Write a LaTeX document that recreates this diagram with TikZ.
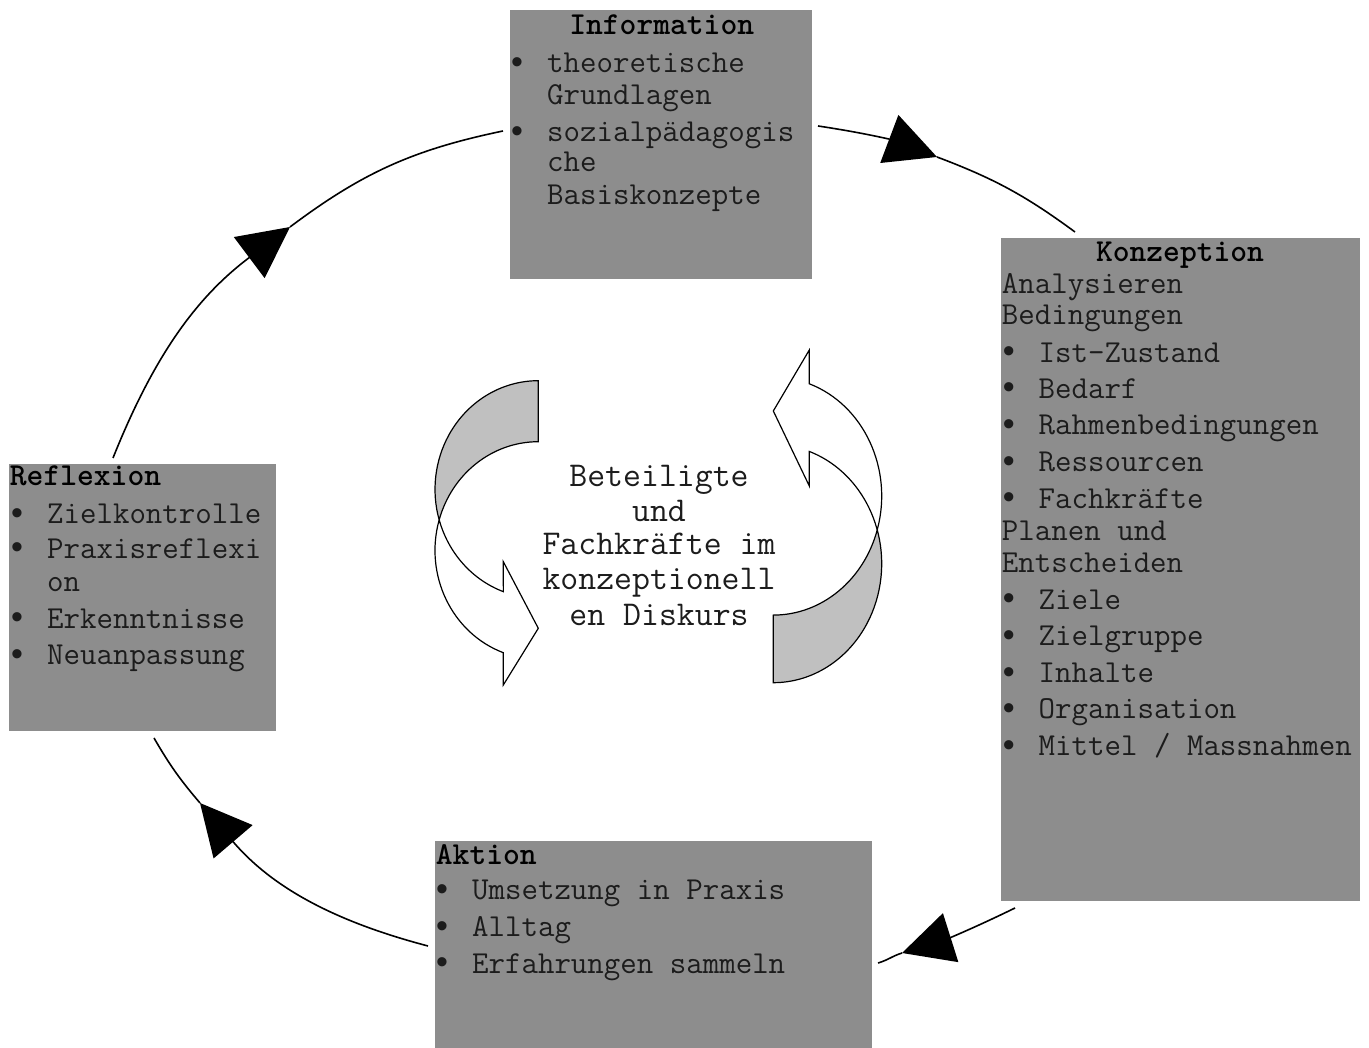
\documentclass[tikz,border=0pt]{standalone}
\usepackage{fontspec}
\newfontfamily\bulfont{Liberation Mono}
\usetikzlibrary{arrows.meta}
\definecolor{boxgray}{RGB}{141,141,141}
\definecolor{arrowgray}{RGB}{192,192,192}
\definecolor{txtcol}{RGB}{28,28,28}
\newcommand\bul{\makebox[19.5pt][l]{\hspace*{-0.6pt}\smash{\raisebox{-0.3pt}{\bulfont\fontsize{17}{17}\selectfont •}}}}
\begin{document}
\begin{tikzpicture}[x=0.5pt,y=0.5pt,
  box/.style={fill=boxgray, draw=none, inner sep=0pt, outer sep=0pt, anchor=north west},
  ttl/.style={font=\ttfamily\bfseries\fontsize{16}{18}\selectfont, text=black, inner sep=0pt},
  txt/.style={font=\ttfamily\fontsize{16}{18}\selectfont, text=txtcol, inner sep=0pt, anchor=base west},
  ctr/.style={font=\ttfamily\fontsize{17.4}{19}\selectfont, text=txtcol, inner sep=0pt, anchor=base},
  cyc/.style={line width=0.8pt, draw=black},
  cyctip/.style={cyc, -{Triangle[length=25.5pt,width=25.5pt]}},
  blk/.style={draw=black, line width=0.6pt, line join=miter},
]
\useasboundingbox (0,0) rectangle (1369,1048);

% cycle connectors
\coordinate (a1s) at (818,922);  \coordinate (a1t) at (937,891);  \coordinate (a1e) at (1075,816);
\coordinate (a2s) at (1015,140); \coordinate (a2t) at (902,95);   \coordinate (a2e) at (878,85);
\coordinate (a3s) at (428,102);  \coordinate (a3t) at (200,245);  \coordinate (a3e) at (154,310);
\coordinate (a4s) at (113,590);  \coordinate (a4t) at (290,821);  \coordinate (a4e) at (503,917);

\draw[cyctip] (a1s) to[out=-8.5,in=159.3] (a1t);
\draw[cyc] (a1t) to[out=-20.7,in=143.7] (a1e);
\draw[cyctip] (a2s) to[out=206,in=17.5] (a2t);
\draw[cyc] (a2t) to[out=197.5,in=16] (a2e);
\draw[cyctip] (a3s) to[out=165.3,in=-49.5] (a3t);
\draw[cyc] (a3t) to[out=130.5,in=300.1] (a3e);
\draw[cyctip] (a4s) to[out=68.2,in=216.9] (a4t);
\draw[cyc] (a4t) to[out=36.9,in=191.8] (a4e);

% boxes
\node[box, minimum width=151pt, minimum height=134.5pt] (info) at (510,1038) {};
\node[box, minimum width=179.5pt, minimum height=331.5pt] (konz) at (1001,810) {};
\node[box, minimum width=133.5pt, minimum height=133.5pt] (refl) at (9,584) {};
\node[box, minimum width=218.5pt, minimum height=103.5pt] (akt) at (435,207) {};

% Information
\node[ttl, anchor=base] (infoT) at (661.7,1013) {Information};
\node[txt] (info1) at (507.7,975.3) {\bul theoretische};
\node[txt] (info2) at (546.7,943.7) {Grundlagen};
\node[txt] (info3) at (507.7,906.3) {\bul sozialpädagogis};
\node[txt] (info4) at (546.7,876.3) {che};
\node[txt] (info5) at (546.7,843.7) {Basiskonzepte};

% Konzeption
\node[ttl, anchor=base] (konzT) at (1180,786.3) {Konzeption};
\node[txt] (k1) at (1001.5,754.7) {Analysieren};
\node[txt] (k2) at (1001.5,723) {Bedingungen};
\node[txt] (k3) at (999.3,685.7) {\bul Ist-Zustand};
\node[txt] (k4) at (999.3,649.7) {\bul Bedarf};
\node[txt] (k5) at (999.3,613) {\bul Rahmenbedingungen};
\node[txt] (k6) at (999.3,576.3) {\bul Ressourcen};
\node[txt] (k7) at (999.3,539.7) {\bul Fachkräfte};
\node[txt] (k8) at (1001.5,507.3) {Planen und};
\node[txt] (k9) at (1001.5,475.7) {Entscheiden};
\node[txt] (k10) at (999.3,438.7) {\bul Ziele};
\node[txt] (k11) at (999.3,402) {\bul Zielgruppe};
\node[txt] (k12) at (999.3,365.3) {\bul Inhalte};
\node[txt] (k13) at (999.3,329) {\bul Organisation};
\node[txt] (k14) at (999.3,292.3) {\bul Mittel / Massnahmen};

% Reflexion
\node[ttl, anchor=base west] (reflT) at (9.5,562.3) {Reflexion};
\node[txt] (r1) at (7.7,524) {\bul Zielkontrolle};
\node[txt] (r2) at (7.7,489.7) {\bul Praxisreflexi};
\node[txt] (r3) at (46.7,456.3) {on};
\node[txt] (r4) at (7.7,419.7) {\bul Erkenntnisse};
\node[txt] (r5) at (7.7,383) {\bul Neuanpassung};

% Aktion
\node[ttl, anchor=base west] (aktT) at (435.5,183.7) {Aktion};
\node[txt] (ak1) at (432.7,148) {\bul Umsetzung in Praxis};
\node[txt] (ak2) at (432.7,111.3) {\bul Alltag};
\node[txt] (ak3) at (432.7,74.7) {\bul Erfahrungen sammeln};

% central curved block arrows
\draw[blk, fill=arrowgray] (538.3,667.3)
  arc[start angle=90, end angle=196.3, x radius=103.3, y radius=108.7]
  arc[start angle=163.7, end angle=90, x radius=103.3, y radius=108.7] -- cycle;
\draw[blk, fill=white] (439.2,528.1)
  arc[start angle=196.3, end angle=250.2, x radius=103.3, y radius=108.7]
  -- (503.3,486.3) -- (538.3,419.7) -- (503.3,363) -- (503.3,395.3)
  arc[start angle=250.2, end angle=163.7, x radius=103.3, y radius=108.7] -- cycle;

\draw[blk, fill=arrowgray] (773.3,365.3)
  arc[start angle=-90, end angle=16.5, x radius=108.4, y radius=119]
  arc[start angle=-16.5, end angle=-90, x radius=108.4, y radius=119] -- cycle;
\draw[blk, fill=white] (877.2,518.1)
  arc[start angle=16.5, end angle=70.6, x radius=108.4, y radius=119]
  -- (809.3,562) -- (773.3,637) -- (809.3,698) -- (809.3,664.2)
  arc[start angle=70.6, end angle=-16.5, x radius=108.4, y radius=119] -- cycle;

% central text
\node[ctr] (c1) at (659,561.3) {Beteiligte};
\node[ctr] (c2) at (659,526.3) {und};
\node[ctr] (c3) at (659,493) {Fachkräfte im};
\node[ctr] (c4) at (659,458) {konzeptionell};
\node[ctr] (c5) at (659,422) {en Diskurs};
\end{tikzpicture}
\end{document}
